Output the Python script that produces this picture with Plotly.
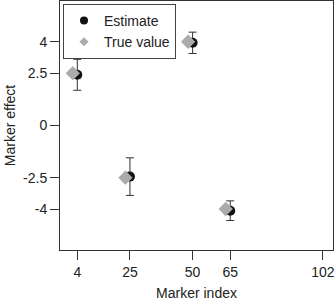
import plotly.graph_objects as go

marker_index = [4, 25, 50, 65]
estimate = [2.42, -2.45, 3.95, -4.08]
est_error = [0.74, 0.90, 0.51, 0.47]
true_value = [2.5, -2.5, 4.0, -4.0]
x_ticks = [4, 25, 50, 65, 102]
y_ticks = [4, 2.5, 0, -2.5, -4]
y_tick_labels = ["4", "2.5", "0", "-2.5", "-4"]

offset = 1.8  # horizontal dodge of the true-value diamonds
true_x = [i - offset for i in marker_index]

font = dict(family="Liberation Sans, Arial, sans-serif", size=14, color="#222")
est_color = "#111"
true_color = "#ababab"

fig = go.Figure()
fig.add_trace(go.Scatter(
    x=marker_index, y=estimate, mode="markers", name="Estimate", showlegend=False,
    marker=dict(symbol="circle", size=10, color=est_color),
    error_y=dict(type="data", array=est_error, color="#333", thickness=1, width=4),
))
fig.add_trace(go.Scatter(
    x=true_x, y=true_value, mode="markers", name="True value", showlegend=False,
    marker=dict(symbol="diamond", size=11, color=true_color),
))
# legend-only entries with smaller symbols, as in the reference
fig.add_trace(go.Scatter(
    x=[None], y=[None], mode="markers", name="Estimate", legendgroup="a",
    marker=dict(symbol="circle", size=8, color=est_color),
))
fig.add_trace(go.Scatter(
    x=[None], y=[None], mode="markers", name="True value", legendgroup="b",
    marker=dict(symbol="diamond", size=7, color=true_color),
))

axis_common = dict(showgrid=False, zeroline=False, showline=True, mirror=True,
                   linecolor="#333", linewidth=1, ticks="outside", ticklen=9,
                   tickcolor="#333", tickfont=font, automargin=False)

fig.update_layout(
    width=335, height=301,
    margin=dict(l=60, r=2, t=1, b=51),
    paper_bgcolor="white", plot_bgcolor="white",
    font=font,
    showlegend=True,
    legend=dict(x=0.011, y=0.988, xanchor="left", yanchor="top",
                bordercolor="#444", borderwidth=1, bgcolor="white",
                font=font, itemwidth=30, tracegroupgap=0),
    xaxis=dict(range=[-2.9, 106], tickvals=x_ticks, ticktext=[str(v) for v in x_ticks],
               title=dict(text="Marker index", font=font, standoff=9),
               **axis_common),
    yaxis=dict(range=[-5.96, 5.95], tickvals=y_ticks, ticktext=y_tick_labels,
               title=dict(text="Marker effect", font=font, standoff=4),
               **axis_common),
)

fig.write_html("out.html", config={"displayModeBar": False},
               post_script="document.body.style.margin='0px';document.body.style.padding='0px';")
